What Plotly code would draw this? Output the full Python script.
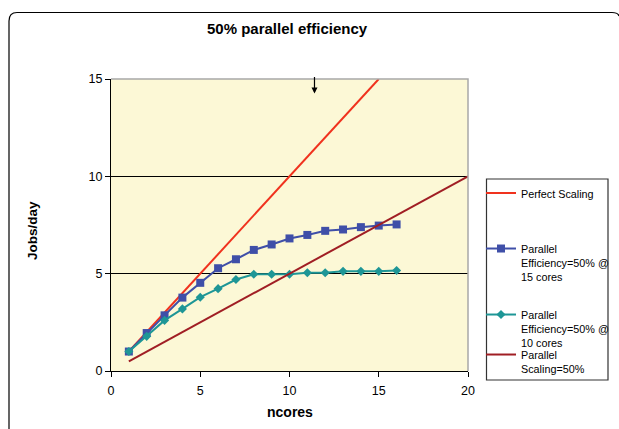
import plotly.graph_objects as go

# ---- data ----
ncores = list(range(1, 17))
perfect_x = [1, 15]
perfect_y = [1, 15]
eff15 = [1.0, 1.95, 2.86, 3.77, 4.53, 5.28, 5.74, 6.22, 6.50, 6.81, 6.99, 7.20, 7.27, 7.39, 7.47, 7.53]
eff10 = [1.0, 1.78, 2.60, 3.19, 3.79, 4.23, 4.70, 4.97, 4.97, 4.97, 5.05, 5.05, 5.12, 5.12, 5.12, 5.16]
scal_x = list(range(1, 21))
scal50 = [0.5, 1.0, 1.5, 2.0, 2.5, 3.0, 3.5, 4.0, 4.5, 5.0, 5.5, 6.0, 6.5, 7.0, 7.5, 8.0, 8.5, 9.0, 9.5, 10.0]
x_ticks = [0, 5, 10, 15, 20]
y_ticks = [0, 5, 10, 15]

FONT = "Liberation Sans, Arial, sans-serif"
W, H = 619, 429
L, R, T, B = 111, 468, 79, 371   # plot area in pixels


def px(p):
    return (p - L) / (R - L)


def py(q):
    return (B - q) / (B - T)


RED = "#F0321E"
BLUE = "#3F4FA8"
TEAL = "#1E9696"
DRED = "#A01E24"

fig = go.Figure()
fig.add_trace(go.Scatter(x=perfect_x, y=perfect_y, mode="lines", name="Perfect Scaling",
                         line=dict(color=RED, width=2), legend="legend"))
fig.add_trace(go.Scatter(x=ncores, y=eff15, mode="lines+markers",
                         name="Parallel<br>Efficiency=50% @<br>15 cores",
                         line=dict(color=BLUE, width=2),
                         marker=dict(symbol="square", size=8, color=BLUE), legend="legend2"))
fig.add_trace(go.Scatter(x=ncores, y=eff10, mode="lines+markers",
                         name="Parallel<br>Efficiency=50% @<br>10 cores",
                         line=dict(color=TEAL, width=2),
                         marker=dict(symbol="diamond", size=7, color=TEAL), legend="legend3"))
fig.add_trace(go.Scatter(x=scal_x, y=scal50, mode="lines", name="Parallel<br>Scaling=50%",
                         line=dict(color=DRED, width=2), legend="legend4"))

leg_common = dict(bgcolor="rgba(0,0,0,0)", borderwidth=0, xanchor="left", yanchor="middle",
                  font=dict(family=FONT, size=10.8, color="#000"), valign="top",
                  itemwidth=30, tracegroupgap=0)
fig.update_layout(
    legend=dict(x=px(481), y=py(194), **leg_common),
    legend2=dict(x=px(481), y=py(263), **leg_common),
    legend3=dict(x=px(481), y=py(329), **leg_common),
    legend4=dict(x=px(481), y=py(362), **leg_common),
)

fig.update_layout(
    width=W, height=H,
    margin=dict(l=L, r=W - R, t=T, b=H - B, pad=0, autoexpand=False),
    paper_bgcolor="white",
    plot_bgcolor="#FCF8D6",
    showlegend=True,
    font=dict(family=FONT, size=12, color="#000"),
    xaxis=dict(range=[0, 20], tickvals=x_ticks, ticks="outside", ticklen=5, tickcolor="#000",
               showgrid=False, zeroline=False, showline=True, linecolor="#000", linewidth=1,
               mirror=False, tickfont=dict(family=FONT, size=12.5), ticklabelstandoff=3),
    yaxis=dict(range=[0, 15], tickvals=y_ticks, ticks="outside", ticklen=5, tickcolor="#000",
               showgrid=True, gridcolor="#000", gridwidth=1, zeroline=False, showline=True,
               linecolor="#000", linewidth=1, mirror=False, tickfont=dict(family=FONT, size=12.5)),
)

shapes = [
    # outer chart border (rounded)
    dict(type="path", xref="paper", yref="paper",
         path=f"M {px(9)} {py(440)} L {px(9)} {py(21)} Q {px(9)} {py(12.5)} {px(17)} {py(12.5)} "
              f"L {px(612)} {py(12.5)} Q {px(618)} {py(12.5)} {px(619)} {py(16)}",
         line=dict(color="#000", width=1.2)),
    # grey plot-area border top and right
    dict(type="path", xref="paper", yref="paper",
         path=f"M 0 1 L 1 1 L 1 0", line=dict(color="#A8A8A8", width=1.5)),
    # legend box
    dict(type="rect", xref="paper", yref="paper", x0=px(486.5), x1=px(608), y0=py(179), y1=py(380),
         line=dict(color="#333", width=1.2), fillcolor="rgba(0,0,0,0)"),
]
fig.update_layout(shapes=shapes)

annotations = [
    dict(text="<b>50% parallel efficiency</b>", xref="paper", yref="paper", x=px(287), y=py(29),
         showarrow=False, font=dict(family=FONT, size=15), xanchor="center", yanchor="middle"),
    dict(text="<b>Jobs/day</b>", xref="paper", yref="paper", x=px(32), y=py(231), textangle=-90,
         showarrow=False, font=dict(family=FONT, size=13.5), xanchor="center", yanchor="middle"),
    dict(text="<b>ncores</b>", xref="paper", yref="paper", x=px(289.5), y=py(412),
         showarrow=False, font=dict(family=FONT, size=14), xanchor="center", yanchor="middle"),
    dict(text="", x=11.4, y=14.25, xref="x", yref="y", showarrow=True, ax=0, ay=-18,
         arrowhead=2, arrowsize=1, arrowwidth=1.2, arrowcolor="#000"),
]
fig.update_layout(annotations=annotations)

fig.write_html("out.html")
